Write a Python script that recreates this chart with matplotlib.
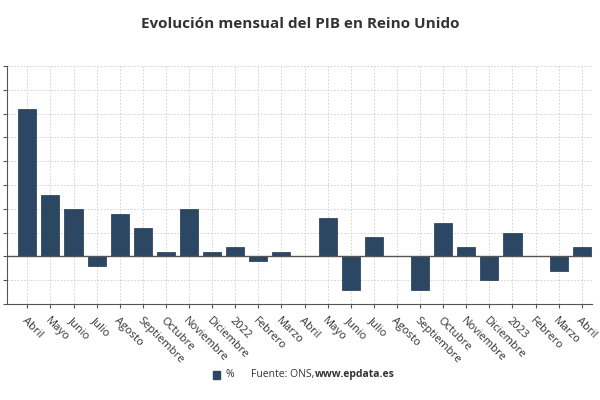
import matplotlib.pyplot as plt
import numpy as np

plt.rcParams["font.family"] = ["Open Sans", "DejaVu Sans"]

labels = ["Abril", "Mayo", "Junio", "Julio", "Agosto", "Septiembre", "Octubre",
          "Noviembre", "Diciembre", "2022", "Febrero", "Marzo", "Abril", "Mayo",
          "Junio", "Julio", "Agosto", "Septiembre", "Octubre", "Noviembre",
          "Diciembre", "2023", "Febrero", "Marzo", "Abril"]
values = [2.48, 1.04, 0.8, -0.16, 0.72, 0.48, 0.08, 0.8, 0.08, 0.16, -0.08, 0.08,
          0.0, 0.64, -0.56, 0.32, 0.0, -0.56, 0.56, 0.16, -0.4, 0.4, 0.0, -0.24, 0.16]

fig = plt.figure(figsize=(6, 4), dpi=100)
ax = fig.add_axes([0.012, 0.24, 0.975, 0.595])
x = np.arange(len(values))
ax.bar(x, values, width=0.78, color="#2b4763", edgecolor="#1e3550", lw=0.5, zorder=3)
ax.set_xlim(-0.87, len(values) - 0.55)
ax.set_ylim(-0.8, 3.2)
ax.set_yticks(np.arange(-0.8, 3.21, 0.4))
ax.set_yticklabels([])
ax.set_xticks(x)
ax.set_xticklabels(labels, rotation=-45, ha="left", rotation_mode="anchor",
                   fontsize=8, color="#333333")
for t in ax.get_xticklabels():
    t.set_x(t.get_position()[0])
ax.tick_params(axis="x", pad=5)
ax.grid(True, ls=(0, (2, 2)), color="#cccccc", lw=0.6, zorder=0)
ax.axhline(0, color="#555555", lw=1, zorder=4)
for s in ["top", "right"]:
    ax.spines[s].set_visible(False)
ax.spines["left"].set_color("#555555")
ax.spines["bottom"].set_color("#555555")
ax.tick_params(axis="y", length=3, color="#555555")
ax.tick_params(axis="x", length=3, color="#555555")

fig.text(0.5, 0.93, "Evolución mensual del PIB en Reino Unido", ha="center",
         fontsize=11, fontweight="bold", color="#333333")
fig.patches.append(plt.Rectangle((0.355, 0.053), 0.012, 0.02, transform=fig.transFigure,
                                 color="#2b4763"))
fig.text(0.375, 0.063, "%", va="center", fontsize=7.5, color="#333333")
fig.text(0.418, 0.063, "Fuente: ONS,", va="center", fontsize=7.5, color="#333333")
fig.text(0.525, 0.063, "www.epdata.es", va="center", fontsize=7.5, color="#333333",
         fontweight="bold")
fig.savefig("out.png")
